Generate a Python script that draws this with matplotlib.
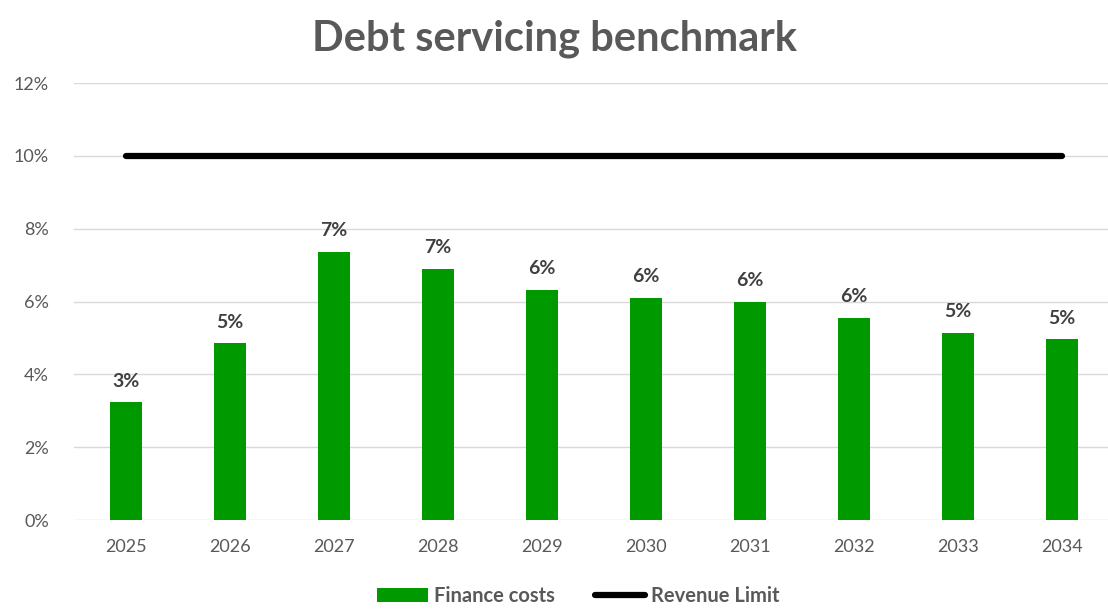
import matplotlib.pyplot as plt
import numpy as np

plt.rcParams['font.family'] = ['Lato', 'DejaVu Sans']

years = ['2025', '2026', '2027', '2028', '2029', '2030', '2031', '2032', '2033', '2034']
finance_costs = [3.24, 4.86, 7.36, 6.90, 6.32, 6.10, 5.99, 5.55, 5.14, 4.97]
revenue_limit = [10, 10, 10, 10, 10, 10, 10, 10, 10, 10]
y_ticks = [0, 2, 4, 6, 8, 10, 12]

grey = '#595959'
green = '#009900'

fig = plt.figure(figsize=(11.08, 6.09), dpi=100)
ax = fig.add_axes([0.0668, 0.1461, 0.9386, 0.7176])

x = np.arange(len(years))
bars = ax.bar(x, finance_costs, width=0.3, color=green, label='Finance costs', zorder=2)
line, = ax.plot(x, revenue_limit, color='black', linewidth=4.5, solid_capstyle='round',
                label='Revenue Limit', zorder=3)

# value labels above each bar
for xi, v in zip(x, finance_costs):
    ax.annotate('{:.0f}%'.format(v), (xi, v), xytext=(0, 9), textcoords='offset points',
                ha='center', va='bottom', fontsize=14, fontweight='bold', color='#404040')

ax.set_xlim(-0.5, len(years) - 0.5)
ax.set_ylim(0, 12)
ax.set_yticks(y_ticks)
ax.set_yticklabels(['{}%'.format(t) for t in y_ticks])
ax.set_xticks(x)
ax.set_xticklabels(years)
ax.tick_params(axis='both', length=0, labelsize=13, colors=grey)
ax.tick_params(axis='y', pad=18)
ax.tick_params(axis='x', pad=14)
ax.grid(axis='y', color='#d9d9d9', linewidth=1, zorder=0)
for s in ax.spines.values():
    s.set_visible(False)

fig.suptitle('Debt servicing benchmark', x=0.5, y=0.968, fontsize=30,
             fontweight='bold', color=grey)

leg = fig.legend([bars, line], ['Finance costs', 'Revenue Limit'],
                 loc='center', bbox_to_anchor=(0.522, 0.022), ncol=2, frameon=False,
                 prop={'size': 14.5, 'weight': 'bold'}, handlelength=2.5,
                 handletextpad=0.3, columnspacing=2.0)
for t in leg.get_texts():
    t.set_color(grey)

fig.savefig('out.png', dpi=100, facecolor='white')
